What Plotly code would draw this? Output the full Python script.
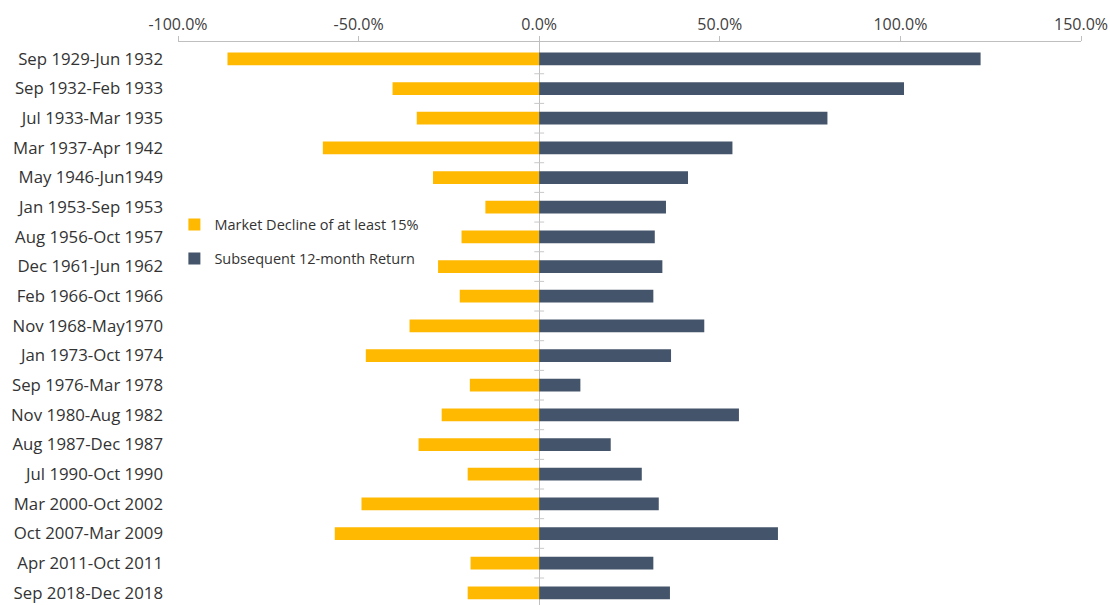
import plotly.graph_objects as go

periods = ["Sep 1929-Jun 1932", "Sep 1932-Feb 1933", "Jul 1933-Mar 1935", "Mar 1937-Apr 1942",
           "May 1946-Jun1949", "Jan 1953-Sep 1953", "Aug 1956-Oct 1957", "Dec 1961-Jun 1962",
           "Feb 1966-Oct 1966", "Nov 1968-May1970", "Jan 1973-Oct 1974", "Sep 1976-Mar 1978",
           "Nov 1980-Aug 1982", "Aug 1987-Dec 1987", "Jul 1990-Oct 1990", "Mar 2000-Oct 2002",
           "Oct 2007-Mar 2009", "Apr 2011-Oct 2011", "Sep 2018-Dec 2018"]
decline = [-86.3, -40.6, -33.9, -59.9, -29.4, -14.9, -21.5, -28.0, -22.0, -35.9,
           -48.0, -19.2, -27.0, -33.4, -19.8, -49.2, -56.6, -19.0, -19.8]
subsequent = [122.2, 101.0, 79.8, 53.5, 41.2, 35.1, 32.0, 34.1, 31.6, 45.7,
              36.5, 11.4, 55.3, 19.8, 28.4, 33.1, 66.1, 31.6, 36.2]
x_ticks = [-100, -50, 0, 50, 100, 150]
x_tick_labels = ["-100.0%", "-50.0%", "0.0%", "50.0%", "100.0%", "150.0%"]

idx = list(range(len(periods)))
font = "Open Sans"

fig = go.Figure()
fig.add_trace(go.Bar(y=idx, x=decline, orientation="h", name="Market Decline of at least 15%",
                     marker=dict(color="#FFB900", line=dict(width=0)), width=0.43,
                     legendgroup="a"))
fig.add_trace(go.Bar(y=idx, x=subsequent, orientation="h", name="Subsequent 12-month Return",
                     marker=dict(color="#44546A", line=dict(width=0)), width=0.43,
                     legendgroup="b"))
# small category ticks along the zero line
fig.add_trace(go.Scatter(x=[0] * (len(periods) - 1), y=[i + 0.5 for i in idx[:-1]],
                         mode="markers", showlegend=False, hoverinfo="skip",
                         marker=dict(symbol="line-ew", size=7, line=dict(width=1, color="#C8C8C8"))))

fig.update_layout(
    width=1110, height=605,
    margin=dict(l=178, r=29, t=42, b=0),
    plot_bgcolor="white", paper_bgcolor="white",
    barmode="overlay",
    font=dict(family=font, color="#333333"),
    legend=dict(x=-0.004, y=0.704, xanchor="left", yanchor="top",
                font=dict(size=14.5, family=font, color="#333333"),
                tracegroupgap=12, bgcolor="rgba(0,0,0,0)"),
    xaxis=dict(side="top", range=[-100, 150], tickvals=x_ticks, ticktext=x_tick_labels,
               showgrid=False, zeroline=True, zerolinecolor="#BFBFBF", zerolinewidth=1,
               showline=True, linecolor="#BFBFBF", linewidth=1,
               ticks="outside", ticklen=5, tickcolor="#BFBFBF",
               tickfont=dict(size=16, family=font, color="#404040")),
    yaxis=dict(range=[18.41, -0.57], tickvals=idx, ticktext=periods,
               showgrid=False, zeroline=False, showline=False, ticks="",
               ticklabelstandoff=14,
               tickfont=dict(size=16.8, family=font, color="#333333")),
)

fig.write_html("out.html")
